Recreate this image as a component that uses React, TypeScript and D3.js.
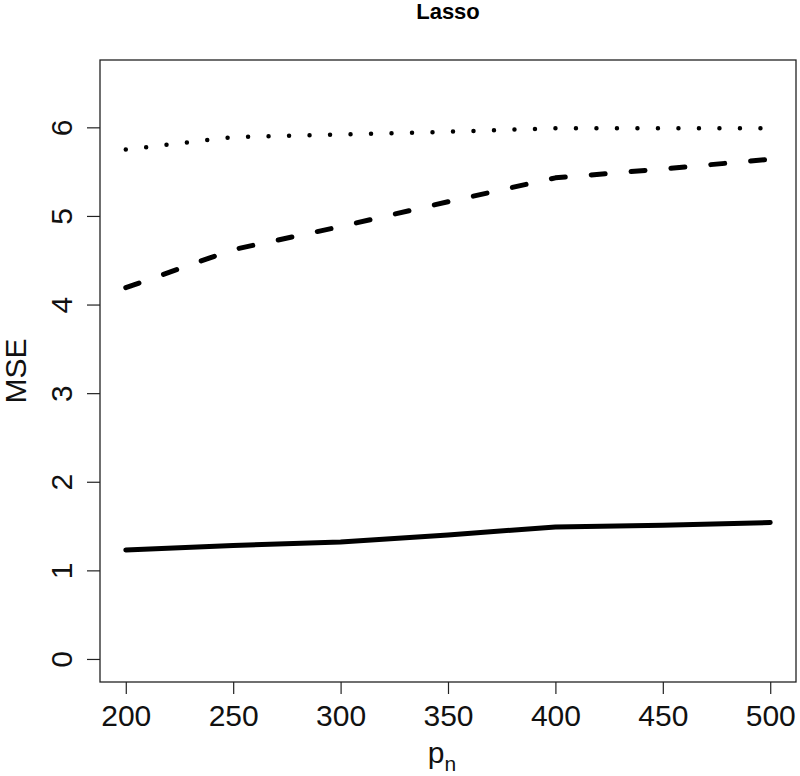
import React, { useEffect, useRef } from 'react'
import * as d3 from 'd3'

const pn = [200, 250, 300, 350, 400, 450, 500]
const solidMse = [1.23, 1.28, 1.32, 1.4, 1.49, 1.51, 1.54]
const dashedMse = [4.19, 4.62, 4.88, 5.16, 5.43, 5.53, 5.64]
const dottedMse = [5.75, 5.89, 5.92, 5.95, 5.99, 5.99, 5.99]
const xTicks = [200, 250, 300, 350, 400, 450, 500]
const yTicks = [0, 1, 2, 3, 4, 5, 6]

const font = '"Liberation Sans", Arial, Helvetica, sans-serif'

const App = () => {
  const ref = useRef<SVGSVGElement | null>(null)

  useEffect(() => {
    if (!ref.current) return
    const width = 800
    const height = 776
    const left = 100, right = 796, top = 60, bottom = 682

    const svg = d3.select(ref.current)
    svg.selectAll('*').remove()
    svg.attr('width', width).attr('height', height)

    // R-style 4% padding around xlim c(200,500), ylim c(0,6.5)
    const x = d3.scaleLinear().domain([188, 512]).range([left, right])
    const y = d3.scaleLinear().domain([-0.26, 6.76]).range([bottom, top])

    svg.append('rect')
        .attr('width', width).attr('height', height).attr('fill', 'white')

    svg.append('text')
        .attr('x', (left + right) / 2)
        .attr('y', 18.5)
        .attr('text-anchor', 'middle')
        .style('font-family', font)
        .style('font-weight', 'bold')
        .style('font-size', '22px')
        .text('Lasso')

    const xAxis = svg.append('g')
        .attr('transform', `translate(0,${bottom})`)
        .call(d3.axisBottom(x).tickValues(xTicks).tickFormat(d3.format('d')).tickSize(12).tickSizeOuter(0))
    xAxis.select('.domain').remove()
    xAxis.selectAll('line').attr('stroke', '#222').attr('stroke-width', 1.2)
    xAxis.selectAll('text')
        .attr('fill', '#111')
        .style('font-family', font)
        .style('font-size', '30px')
        .attr('dy', null)
        .attr('y', 44)

    const yAxis = svg.append('g')
        .attr('transform', `translate(${left},0)`)
        .call(d3.axisLeft(y).tickValues(yTicks).tickFormat(d3.format('d')).tickSize(13).tickSizeOuter(0))
    yAxis.select('.domain').remove()
    yAxis.selectAll('line').attr('stroke', '#222').attr('stroke-width', 1.2)
    yAxis.selectAll('text')
        .attr('fill', '#111')
        .style('font-family', font)
        .style('font-size', '30px')
        .attr('x', null)
        .attr('dy', null)
        .attr('text-anchor', 'middle')
        .attr('transform', 'translate(-28,0) rotate(-90)')

    svg.append('rect')
        .attr('x', left).attr('y', top)
        .attr('width', right - left).attr('height', bottom - top)
        .attr('fill', 'none').attr('stroke', '#222').attr('stroke-width', 1.3)

    const line = (vals: number[]) =>
      d3.line<number>().x((_, i) => x(pn[i])).y(d => y(d))(vals)

    svg.append('path')
        .attr('d', line(solidMse))
        .attr('fill', 'none').attr('stroke', 'black')
        .attr('stroke-width', 5).attr('stroke-linecap', 'round').attr('stroke-linejoin', 'round')

    svg.append('path')
        .attr('d', line(dashedMse))
        .attr('fill', 'none').attr('stroke', 'black')
        .attr('stroke-width', 5).attr('stroke-linecap', 'round').attr('stroke-linejoin', 'round')
        .attr('stroke-dasharray', '14 26')

    svg.append('path')
        .attr('d', line(dottedMse))
        .attr('fill', 'none').attr('stroke', 'black')
        .attr('stroke-width', 4.5).attr('stroke-linecap', 'round')
        .attr('stroke-dasharray', '0 20.5')

    const xl = svg.append('text')
        .attr('x', (left + right) / 2 - 6)
        .attr('y', 763)
        .attr('text-anchor', 'middle')
        .style('font-family', font)
        .style('font-size', '30px')
        .attr('fill', '#111')
    xl.append('tspan').text('p')
    xl.append('tspan').attr('dy', 8).style('font-size', '21px').text('n')

    svg.append('text')
        .attr('transform', `translate(26,${(top + bottom) / 2}) rotate(-90)`)
        .attr('text-anchor', 'middle')
        .style('font-family', font)
        .style('font-size', '30px')
        .attr('fill', '#111')
        .text('MSE')
  }, [])

  return (
      <div style={{ position: 'absolute', left: 0, top: 0 }}>
        <svg ref={ref} style={{ display: 'block' }} />
      </div>
  )
}

export default App
